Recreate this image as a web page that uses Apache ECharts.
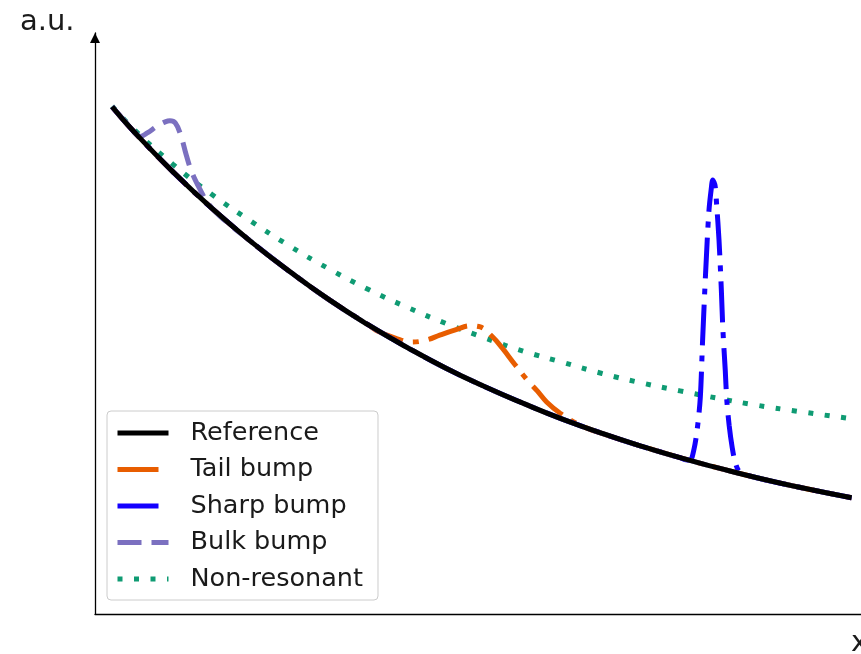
<!DOCTYPE html>
<html>
<head>
<meta charset="utf-8">
<script src="https://cdn.jsdelivr.net/npm/echarts@6/dist/echarts.min.js"></script>
<style>
html,body{margin:0;padding:0;background:#fff;}
#chart{width:861px;height:654px;}
</style>
</head>
<body>
<div id="chart"></div>
<script>
// ---- data (arbitrary units) ----
const seriesNames = ['Reference', 'Tail bump', 'Sharp bump', 'Bulk bump', 'Non-resonant'];

const refX = [0.22, 0.5, 1, 1.5, 2, 2.5, 3, 3.5, 4, 4.5, 5, 5.5, 6, 6.5, 7, 7.5, 8, 8.5, 9, 9.7];
const refY = [8.73, 8.30, 7.61, 6.98, 6.41, 5.89, 5.41, 4.98, 4.59, 4.23, 3.91, 3.62, 3.35, 3.11, 2.89, 2.69, 2.51, 2.34, 2.19, 2.00];

const tailX = [0.22, 0.5, 1, 1.5, 2, 2.5, 3, 3.5, 3.62, 3.85, 4.06, 4.26, 4.42, 4.62, 4.81, 4.94, 5.09, 5.22, 5.38, 5.54, 5.67, 5.79, 5.96, 6.22, 6.47, 7, 7.5, 8, 8.5, 9, 9.7];
const tailY = [8.73, 8.30, 7.61, 6.98, 6.41, 5.89, 5.41, 4.98, 4.87, 4.75, 4.68, 4.72, 4.80, 4.89, 4.96, 4.94, 4.78, 4.58, 4.30, 4.03, 3.84, 3.65, 3.46, 3.25, 3.12, 2.89, 2.69, 2.51, 2.34, 2.19, 2.00];

const sharpX = [0.22, 0.5, 1, 1.5, 2, 2.5, 3, 3.5, 4, 4.5, 5, 5.5, 6, 6.5, 7, 7.5, 7.56, 7.63, 7.68, 7.72, 7.76, 7.79, 7.83, 7.87, 7.90, 7.92, 7.95, 7.97, 8.00, 8.03, 8.05, 8.08, 8.10, 8.13, 8.17, 8.21, 8.27, 8.5, 9, 9.7];
const sharpY = [8.73, 8.30, 7.61, 6.98, 6.41, 5.89, 5.41, 4.98, 4.59, 4.23, 3.91, 3.62, 3.35, 3.11, 2.89, 2.69, 2.66, 2.65, 2.84, 3.17, 3.72, 4.72, 5.92, 6.92, 7.31, 7.47, 7.37, 7.04, 6.44, 5.58, 4.89, 4.20, 3.68, 3.25, 2.86, 2.60, 2.44, 2.34, 2.19, 2.00];

const bulkX = [0.22, 0.39, 0.51, 0.58, 0.67, 0.80, 0.90, 0.96, 1.03, 1.10, 1.17, 1.24, 1.35, 1.45, 1.60, 2, 2.5, 3, 3.5, 4, 4.5, 5, 5.5, 6, 6.5, 7, 7.5, 8, 8.5, 9, 9.7];
const bulkY = [8.73, 8.47, 8.28, 8.22, 8.28, 8.40, 8.47, 8.49, 8.45, 8.24, 7.90, 7.61, 7.30, 7.07, 6.85, 6.41, 5.89, 5.41, 4.98, 4.59, 4.23, 3.91, 3.62, 3.35, 3.11, 2.89, 2.69, 2.51, 2.34, 2.19, 2.00];

const nonX = [0.22, 0.5, 1, 1.5, 2, 2.5, 3, 3.5, 4, 4.5, 5, 5.5, 6, 6.5, 7, 7.5, 8, 8.5, 9, 9.7];
const nonY = [8.74, 8.34, 7.74, 7.22, 6.76, 6.33, 5.94, 5.59, 5.28, 5.00, 4.75, 4.52, 4.33, 4.14, 3.98, 3.84, 3.71, 3.59, 3.49, 3.36];

const yLabel = 'a.u.';
const xLabel = 'x';

// ---- chart ----
const pairs = (xs, ys) => xs.map((x, i) => [x, ys[i]]);
const FONT = '"DejaVu Sans", sans-serif';
const chart = echarts.init(document.getElementById('chart'), null, {renderer: 'canvas'});

const axisLineStyle = {color: '#000', width: 1.3};

chart.setOption({
  animation: false,
  backgroundColor: '#fff',
  grid: {left: 95, right: -14, top: 33, bottom: 40, outerBoundsMode: 'none', containLabel: false},
  xAxis: {
    type: 'value', min: 0, max: 10,
    axisLine: {show: true, lineStyle: axisLineStyle, symbol: ['none', 'triangle'], symbolSize: [10, 10], symbolOffset: [0, -5]},
    axisTick: {show: false}, axisLabel: {show: false}, splitLine: {show: false}
  },
  yAxis: {
    type: 'value', min: 0, max: 10,
    axisLine: {show: true, onZero: false, lineStyle: axisLineStyle, symbol: ['none', 'triangle'], symbolSize: [10, 10], symbolOffset: [0, -5]},
    axisTick: {show: false}, axisLabel: {show: false}, splitLine: {show: false}
  },
  legend: {
    orient: 'vertical',
    left: 107, top: 411,
    padding: [9, 15, 8, 8],
    itemWidth: 51, itemHeight: 14, itemGap: 10.5,
    backgroundColor: 'rgba(255,255,255,0.8)',
    borderColor: '#cccccc', borderWidth: 1, borderRadius: 4,
    itemStyle: {opacity: 0},
    lineStyle: {width: 5},
    data: seriesNames,
    textStyle: {fontFamily: FONT, fontSize: 25.5, color: '#1a1a1a', lineHeight: 26, padding: [0, 0, 0, 17]}
  },
  series: [
    {name: seriesNames[0], type: 'line', data: pairs(refX, refY), smooth: true, showSymbol: false, symbol: 'none', z: 5,
     lineStyle: {color: '#000000', width: 5}, itemStyle: {color: '#000000'}},
    {name: seriesNames[1], type: 'line', data: pairs(tailX, tailY), smooth: 0.4, showSymbol: false, symbol: 'none', z: 3,
     lineStyle: {color: '#e85d00', width: 5, type: [41, 10, 6, 10], cap: 'butt'}, itemStyle: {color: '#e85d00'}},
    {name: seriesNames[2], type: 'line', data: pairs(sharpX, sharpY), smooth: 0.3, showSymbol: false, symbol: 'none', z: 3,
     lineStyle: {color: '#1400ff', width: 5, type: [41, 10, 6, 10], cap: 'butt'}, itemStyle: {color: '#1400ff'}},
    {name: seriesNames[3], type: 'line', data: pairs(bulkX, bulkY), smooth: 0.4, showSymbol: false, symbol: 'none', z: 3,
     lineStyle: {color: '#7b70c0', width: 5, type: [24, 10], cap: 'butt'}, itemStyle: {color: '#7b70c0'}},
    {name: seriesNames[4], type: 'line', data: pairs(nonX, nonY), smooth: true, showSymbol: false, symbol: 'none', z: 2,
     lineStyle: {color: '#0f9b73', width: 5, type: [5, 11.5], cap: 'butt'}, itemStyle: {color: '#0f9b73'}}
  ],
  graphic: [
    {type: 'text', left: 20, top: 8, style: {text: yLabel, font: '29px ' + FONT, fill: '#1a1a1a'}},
    {type: 'text', left: 851, top: 629, style: {text: xLabel, font: '29px ' + FONT, fill: '#1a1a1a'}}
  ]
});
</script>
</body>
</html>
